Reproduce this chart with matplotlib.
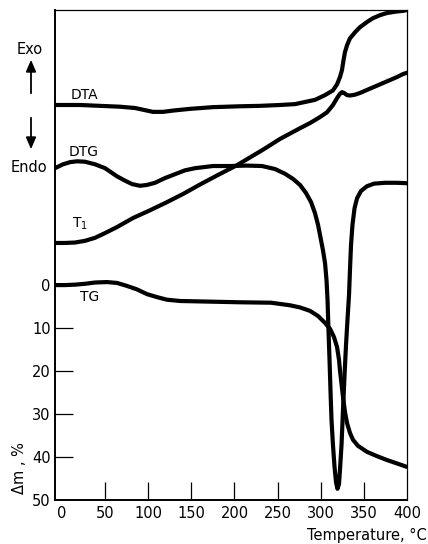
import matplotlib
matplotlib.use("Agg")
import matplotlib.pyplot as plt

# ---- data (temperature in °C, ordinate in Δm-axis units; DTA/DTG/T1 are offset traces) ----
dta_T = [-8, 21, 44.2, 67.3, 84.7, 96.3, 105.6, 117.2, 128.8, 148.5, 175.1, 206.4, 229.6, 252.8, 270.2,
         281.8, 293.4, 305, 314.2, 318.9, 322.3, 324.6, 326.4, 328.1, 330.5, 333.9, 339.7, 345.5, 353.6,
         360.6, 368.7, 376.8, 386.1, 395.4, 400]
dta_y = [-41.9, -41.9, -41.7, -41.5, -41.2, -40.7, -40.3, -40.3, -40.6, -41.0, -41.4, -41.6, -41.7, -41.9,
         -42.1, -42.6, -43.1, -44.2, -45.3, -46.7, -48.4, -50.0, -52.3, -54.2, -55.8, -57.4, -58.8, -60.0,
         -61.2, -62.1, -62.8, -63.3, -63.6, -63.8, -64.0]

dtg_T = [-8, 1.3, 9.4, 17.5, 26.8, 38.4, 50, 63.9, 73.1, 81.3, 90.5, 98.6, 107.9, 119.5, 131.1, 142.7,
         154.3, 175.1, 194.8, 214.5, 231.9, 247, 258.6, 267.9, 276, 283, 288.8, 293.4, 296.9, 300.3, 302.6,
         305, 306.7, 307.9, 309, 310.2, 311.3, 312.5, 314.2, 316, 317.7, 319.4, 321.2, 322.3, 324.1, 325.8,
         327.6, 329.3, 331, 332.8, 333.9, 335.1, 336.8, 339.2, 342.1, 346.7, 353.6, 361.8, 374.5, 388.4, 400]
dtg_y = [-27.2, -28.1, -28.6, -28.8, -28.7, -28.1, -27.2, -25.3, -24.3, -23.5, -23.1, -23.3, -23.8, -24.9,
         -25.8, -26.7, -27.2, -27.7, -27.7, -27.8, -27.7, -27.0, -25.9, -24.7, -23.3, -21.4, -19.3, -16.7,
         -14.0, -10.5, -8.1, -5.1, -1.2, 3.5, 10.5, 17.4, 24.4, 31.4, 37.2, 42.3, 45.8, 47.4, 46.3, 43.0,
         37.2, 29.1, 20.9, 14.0, 8.1, 2.3, -3.5, -9.3, -14.0, -17.9, -20.2, -21.9, -23.0, -23.6, -23.8,
         -23.8, -23.7]

t1_T = [-8, 3.6, 15.2, 26.8, 38.4, 50, 63.9, 82.4, 102.1, 121.8, 140.4, 160.1, 179.8, 203, 218, 233.1,
        252.8, 276, 287.6, 299.2, 307.3, 314.2, 318.9, 322.3, 324.6, 327, 330.5, 333.9, 339.7, 345.5,
        357.1, 368.7, 380.3, 388.4, 395.4, 400]
t1_y = [-9.8, -9.8, -9.9, -10.3, -11.0, -12.1, -13.5, -15.6, -17.4, -19.3, -21.2, -23.4, -25.5, -27.9,
        -29.7, -31.5, -34.0, -36.5, -37.7, -39.1, -40.2, -41.9, -43.5, -44.5, -44.9, -44.7, -44.2, -44.1,
        -44.3, -44.7, -45.7, -46.7, -47.7, -48.4, -49.1, -49.4]

tg_T = [-8, 3.6, 15.2, 26.8, 38.4, 52.3, 63.9, 75.5, 87, 98.6, 110.2, 121.8, 136.9, 160.1, 206.4, 242.4,
        264.4, 276, 287.6, 296.9, 305, 310.8, 315.4, 318.9, 321.2, 322.3, 325.8, 328.1, 330.5, 333.9,
        337.4, 343.2, 353.6, 365.2, 376.8, 388.4, 400]
tg_y = [0, 0, -0.1, -0.3, -0.6, -0.7, -0.5, 0.2, 1.0, 2.1, 2.8, 3.4, 3.7, 3.8, 4.0, 4.1, 4.7, 5.2, 6.0,
        7.2, 8.8, 10.2, 12.1, 14.4, 17.4, 19.8, 26.0, 29.5, 32.1, 34.4, 36.0, 37.4, 38.8, 39.8, 40.7,
        41.5, 42.3]

x_ticks = [0, 50, 100, 150, 200, 250, 300, 350, 400]
y_ticks = [0, 10, 20, 30, 40, 50]

W, H = 428, 544
fig = plt.figure(figsize=(W / 100, H / 100), dpi=100)
ax = fig.add_axes([55 / W, 1 - 500 / H, 352 / W, 490 / H])

lw = 3.0
for T, y in [(dta_T, dta_y), (dtg_T, dtg_y), (t1_T, t1_y), (tg_T, tg_y)]:
    ax.plot(T, y, color="black", lw=lw, solid_capstyle="round", solid_joinstyle="round")

ax.set_xlim(-8, 400)
ax.set_ylim(50, -64)

ax.set_xticks(x_ticks)
ax.set_xticklabels([str(v) for v in x_ticks], fontsize=10.5)
ax.set_yticks(y_ticks)
ax.set_yticklabels([str(v) for v in y_ticks], fontsize=10.5)
ax.tick_params(direction="in", length=13, width=0.9, pad=3)
ax.tick_params(axis="x", pad=4)
# end ticks coincide with the frame / curve: hide their marks
for t in [ax.xaxis.get_major_ticks()[0], ax.xaxis.get_major_ticks()[-1],
          ax.yaxis.get_major_ticks()[0], ax.yaxis.get_major_ticks()[-1]]:
    t.tick1line.set_visible(False)

for side in ["left", "bottom"]:
    ax.spines[side].set_linewidth(1.4)
for side in ["top", "right"]:
    ax.spines[side].set_linewidth(0.9)

def px(x, y):
    return x / W, 1 - y / H

fig.text(*px(84, 95), "DTA", fontsize=10, ha="center", va="center")
fig.text(*px(84, 152), "DTG", fontsize=10, ha="center", va="center")
fig.text(*px(80, 224), r"T$_1$", fontsize=10, ha="center", va="center")
fig.text(*px(90, 297), "TG", fontsize=10, ha="center", va="center")
fig.text(*px(30, 49), "Exo", fontsize=10.5, ha="center", va="center")
fig.text(*px(29, 167), "Endo", fontsize=10.5, ha="center", va="center")
fig.text(*px(20, 468), "Δm , %", fontsize=10.5, ha="center", va="center", rotation=90)
fig.text(*px(427, 535), "Temperature, °C", fontsize=10.5, ha="right", va="center")

ax.annotate("", xy=(31, H - 57), xytext=(31, H - 96), xycoords="figure pixels",
            textcoords="figure pixels",
            arrowprops=dict(arrowstyle="-|>,head_length=0.7,head_width=0.3", color="black", lw=1.3))
ax.annotate("", xy=(31, H - 152), xytext=(31, H - 115), xycoords="figure pixels",
            textcoords="figure pixels",
            arrowprops=dict(arrowstyle="-|>,head_length=0.7,head_width=0.3", color="black", lw=1.3))

fig.savefig("out.png", dpi=100)
